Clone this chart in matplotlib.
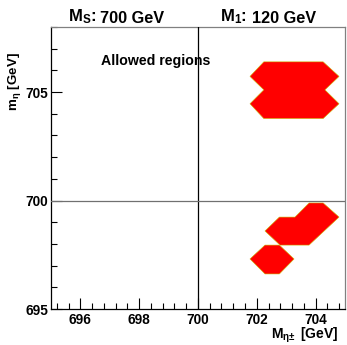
import matplotlib
matplotlib.use("Agg")
import matplotlib.pyplot as plt
from matplotlib.patches import Polygon
from matplotlib.ticker import MultipleLocator

plt.rcParams['font.family'] = ['Liberation Sans', 'DejaVu Sans']
plt.rcParams['font.weight'] = 'bold'
plt.rcParams['mathtext.fontset'] = 'custom'
plt.rcParams['mathtext.rm'] = 'Liberation Sans:bold'
plt.rcParams['mathtext.bf'] = 'Liberation Sans:bold'
plt.rcParams['mathtext.it'] = 'Liberation Sans:bold'

# Allowed-region outlines (x = M_eta+-, y = m_eta), GeV
upper_x = [702.24, 704.26, 704.80, 704.32, 704.80, 704.26, 702.24, 701.77, 702.24, 701.77]
upper_y = [706.39, 706.39, 705.72, 705.10, 704.46, 703.78, 703.78, 704.46, 705.10, 705.72]
mid_x = [703.78, 704.26, 704.80, 703.78, 702.79, 702.28, 702.77, 703.30]
mid_y = [699.89, 699.89, 699.24, 697.95, 697.95, 698.60, 699.24, 699.24]
low_x = [702.28, 702.77, 703.27, 702.77, 702.28, 701.77]
low_y = [697.95, 697.95, 697.31, 696.62, 696.62, 697.31]

x_ticks = [696, 698, 700, 702, 704]
y_ticks = [695, 700, 705]
xlim = (695, 705)
ylim = (695, 708)
ref_ms = 700
ref_m1 = 120

fig = plt.figure(figsize=(3.47, 3.45), dpi=100)
ax = fig.add_axes([0.147, 0.104, 0.847, 0.818])

for xs, ys in [(upper_x, upper_y), (mid_x, mid_y), (low_x, low_y)]:
    ax.add_patch(Polygon(list(zip(xs, ys)), closed=True, facecolor='#ff0000',
                         edgecolor='#c8b400', linewidth=0.4, zorder=2))

ax.axvline(ref_ms, color='black', lw=0.9, zorder=3)
ax.axhline(ref_ms, color='#707070', lw=0.9, zorder=3)

ax.set_xlim(*xlim)
ax.set_ylim(*ylim)
ax.set_xticks(x_ticks)
ax.set_yticks(y_ticks)
ax.xaxis.set_minor_locator(MultipleLocator(0.4))
ax.yaxis.set_minor_locator(MultipleLocator(1))
ax.tick_params(axis='both', which='major', direction='in', length=8, width=0.8,
               labelsize=9.8, top=False, right=False)
ax.tick_params(axis='both', which='minor', direction='in', length=4, width=0.8,
               top=False, right=False)
ax.tick_params(axis='x', pad=3)
ax.tick_params(axis='y', pad=2)
for lab in ax.get_xticklabels() + ax.get_yticklabels():
    lab.set_fontweight('bold')
for s in ['top', 'right']:
    ax.spines[s].set_color('#808080')
for s in ['left', 'bottom']:
    ax.spines[s].set_color('black')
for s in ax.spines.values():
    s.set_linewidth(0.9)

fig.text(68/347, 1 - 21/345, r'$\mathrm{M_S}$:', fontsize=12,
         fontweight='bold', ha='left', va='baseline')
fig.text(100/347, 1 - 23/345, '%d GeV' % ref_ms, fontsize=11.7,
         fontweight='bold', ha='left', va='baseline')
fig.text(220/347, 1 - 21/345, r'$\mathrm{M_1}$:', fontsize=12,
         fontweight='bold', ha='left', va='baseline')
fig.text(252/347, 1 - 23/345, '%d GeV' % ref_m1, fontsize=11.7,
         fontweight='bold', ha='left', va='baseline')
fig.text(101/347, 1 - 65/345, 'Allowed regions', fontsize=10.2,
         fontweight='bold', ha='left', va='baseline')
fig.text(338/347, 1 - 339/345, r'$\mathrm{M_{\eta\!\pm}}$ [GeV]', fontsize=10,
         fontweight='bold', ha='right', va='baseline')
fig.text(6/347, 1 - 52/345, r'$\mathrm{m_{\eta}}$ [GeV]', fontsize=9.6,
         fontweight='bold', ha='right', va='top', rotation=90, rotation_mode='anchor')

fig.savefig('out.png', dpi=100)
